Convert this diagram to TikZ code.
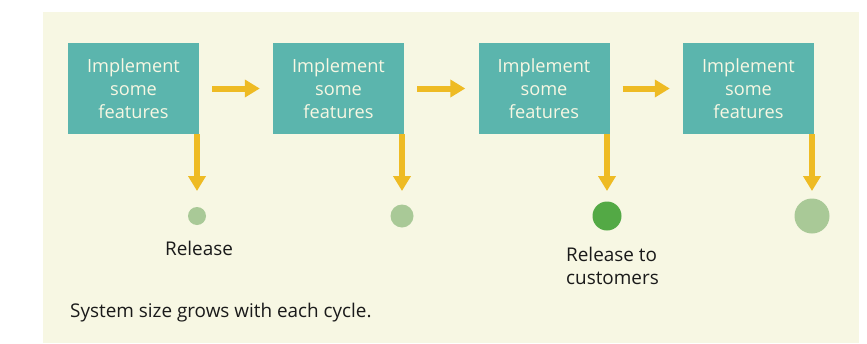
\documentclass[tikz,border=0pt]{standalone}
\usepackage{fontspec}
\setmainfont{Open Sans}
\usetikzlibrary{arrows.meta}
\definecolor{paper}{HTML}{F7F7E3}
\definecolor{teal}{HTML}{5BB5AD}
\definecolor{gold}{HTML}{EEBB24}
\definecolor{palegreen}{HTML}{A9C997}
\definecolor{deepgreen}{HTML}{53A945}
\definecolor{ink}{HTML}{1A1A1A}
\begin{document}
\begin{tikzpicture}[x=1pt,y=-1pt,
  stepbox/.style={fill=teal,minimum width=131pt,minimum height=91pt,inner sep=0pt,
    text=paper,align=center,font=\fontsize{18.2}{23}\selectfont},
  flow/.style={draw=gold,line width=6pt,-{Triangle[length=15pt,width=17pt]}},
  dot/.style={circle,fill=#1,inner sep=0pt,draw=none},
  lbl/.style={text=ink,font=\fontsize{18.9}{23}\selectfont,inner sep=0pt}]
  \useasboundingbox (0,0) rectangle (867,343);
  \fill[paper] (43,12) rectangle (859,343);

  % iteration boxes
  \node[stepbox] (b1) at (133.5,88.5) {Implement\\some\\features};
  \node[stepbox] (b2) at (338.5,88.5) {Implement\\some\\features};
  \node[stepbox] (b3) at (544,88.5) {Implement\\some\\features};
  \node[stepbox] (b4) at (748.5,88.5) {Implement\\some\\features};

  % releases, growing with each cycle
  \node[dot=palegreen,minimum size=18pt] (c1) at (197,216) {};
  \node[dot=palegreen,minimum size=23pt] (c2) at (402,216) {};
  \node[dot=deepgreen,minimum size=29pt] (c3) at (607,216) {};
  \node[dot=palegreen,minimum size=35pt] (c4) at (812,216) {};

  % arrow ends above the release dots
  \coordinate (e1) at (197,191);
  \coordinate (e2) at (402,191);
  \coordinate (e3) at (607,191);
  \coordinate (e4) at (812,191);

  % flow between iterations
  \draw[flow,shorten <=13pt,shorten >=13pt] (b1.east) -- (b2.west);
  \draw[flow,shorten <=13pt,shorten >=13pt] (b2.east) -- (b3.west);
  \draw[flow,shorten <=13pt,shorten >=13pt] (b3.east) -- (b4.west);

  % flow down to each release
  \draw[flow] (b1.south -| e1) -- (e1);
  \draw[flow] (b2.south -| e2) -- (e2);
  \draw[flow] (b3.south -| e3) -- (e3);
  \draw[flow] (b4.south -| e4) -- (e4);

  % labels
  \node[lbl] (r1) at (199,248) {Release};
  \node[lbl,align=left,anchor=west] (r3) at (566,265.5) {Release to\\customers};
  \node[lbl,anchor=west] (note) at (70,313) {System size grows with each cycle.};
\end{tikzpicture}
\end{document}
